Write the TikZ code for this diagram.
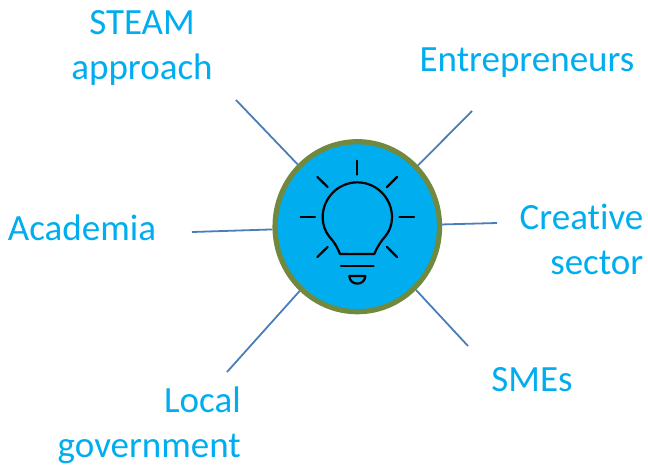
\documentclass[tikz,border=0pt]{standalone}
\usepackage{fontspec}
\setmainfont{Carlito}[Ligatures=NoCommon]
\usetikzlibrary{shapes.geometric}
\definecolor{lbl}{HTML}{00ADEF}
\definecolor{hubfill}{HTML}{00ADEF}
\definecolor{hubline}{HTML}{71893F}
\definecolor{conn}{HTML}{4A7EBB}
\tikzset{
  label text/.style={text=lbl,font=\fontsize{37}{45}\selectfont,align=center,inner sep=0pt},
  hubnode/.style={ellipse,draw=hubline,fill=hubfill,line width=5.2pt,minimum width=164.5pt,minimum height=170pt,inner sep=0pt},
  connector/.style={draw=conn,line width=1.8pt},
  bulb/.style={draw=black,line width=2.2pt,line cap=round,line join=round}
}
\begin{document}
\begin{tikzpicture}[x=1pt,y=-1pt]
\useasboundingbox (0,0) rectangle (648,466);
\node[hubnode] (hub) at (357.3,226.7) {};
\coordinate (a1) at (236,100);
\coordinate (a2) at (472,111);
\coordinate (a3) at (497,223);
\coordinate (a4) at (468,346);
\coordinate (a5) at (227,372);
\coordinate (a6) at (192,232);
\foreach \c in {a1,a2,a3,a4,a5,a6} \draw[connector] (\c) -- (hub);
\node[label text] (steam) at (142,47.5) {STEAM\\approach};
\node[label text] (entre) at (527,63) {Entrepreneurs};
\node[label text,align=right,anchor=east] (creat) at (643.5,239.5) {Creative\\sector};
\node[label text] (smes) at (532,380) {SMEs};
\node[label text,align=right,anchor=east] (local) at (241,425) {Local\\government};
\node[label text] (acad) at (82,228) {Academia};
\begin{scope}[shift={(260,130)},x=0.3333pt,y=-0.3333pt]
\draw[bulb] (240,372) -- (343,372) .. controls (352,350) and (362,335) .. (375,320)
  .. controls (388,305) and (396,285) .. (396,262)
  arc[start angle=0,end angle=-180,x radius=104,y radius=105]
  .. controls (188,285) and (196,305) .. (208,320)
  .. controls (222,335) and (231,350) .. (240,372) -- cycle;
\draw[bulb] (243,407) -- (341,407);
\draw[bulb] (268,438) -- (316,438) arc[start angle=0,end angle=180,x radius=24,y radius=23];
\draw[bulb] (292,92) -- (292,134);
\draw[bulb] (172,141) -- (203,171);
\draw[bulb] (411,141) -- (381,171);
\draw[bulb] (122,262) -- (165,262);
\draw[bulb] (418,262) -- (462,262);
\draw[bulb] (172,381) -- (203,351);
\draw[bulb] (411,381) -- (381,351);
\end{scope}
\end{tikzpicture}
\end{document}
